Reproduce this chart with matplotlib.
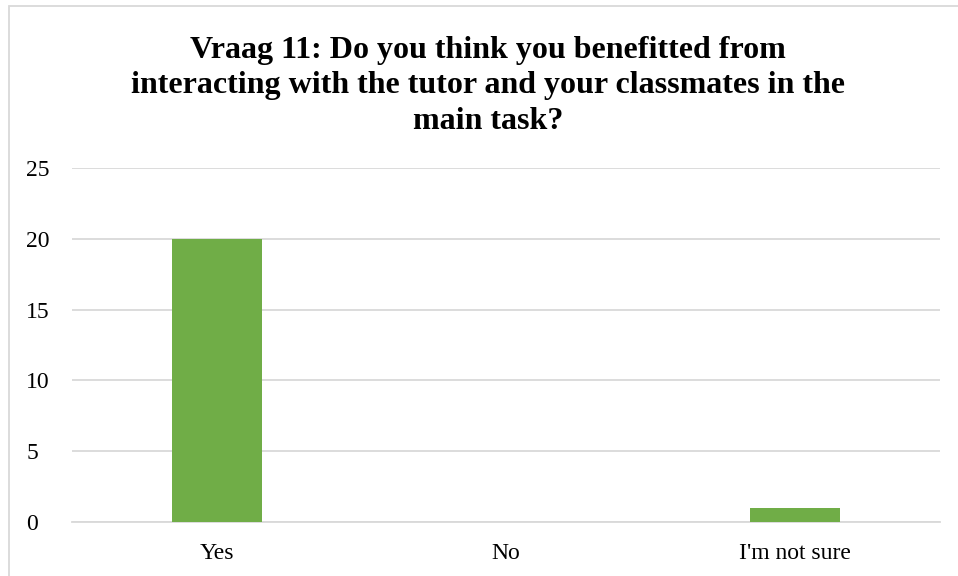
import numpy as np
import matplotlib.pyplot as plt
from matplotlib.patches import Rectangle

# survey answers for question 11
answers = ['Yes', 'No', "I'm not sure"]
counts = [20, 0, 1]
yticks = [0, 5, 10, 15, 20, 25]

title = ('Vraag 11: Do you think you benefitted from\n'
         'interacting with the tutor and your classmates in the\n'
         'main task?')

plt.rcParams['font.family'] = ['Liberation Serif', 'DejaVu Serif']

fig = plt.figure(figsize=(9.58, 5.76), dpi=100)
ax = fig.add_axes([72/958, 1 - 522/576, (940 - 72)/958, (522 - 168)/576])

x = np.arange(len(answers))
ax.bar(x, counts, width=0.31, color='#70AD47', zorder=3)

ax.set_xlim(-0.5, 2.5)
ax.set_ylim(0, 25)
ax.set_yticks(yticks)
ax.set_xticks(x)
ax.set_xticklabels(answers)
ax.tick_params(axis='both', length=0, labelsize=17, colors='black')
ax.tick_params(axis='x', pad=15)
ax.tick_params(axis='y', pad=33)
for lbl in ax.get_yticklabels():
    lbl.set_horizontalalignment('left')

ax.grid(axis='y', color='#d9d9d9', linewidth=1.3, zorder=0)
for side in ['top', 'right', 'left']:
    ax.spines[side].set_visible(False)
ax.spines['bottom'].set_color('#d9d9d9')
ax.spines['bottom'].set_linewidth(1.3)

fig.text(488/958, 1 - 86/576, title, ha='center', va='center',
         fontsize=23, fontweight='bold', linespacing=1.29)

# chart area border
fig.patches.append(Rectangle((9/958, -0.05), 1.0, 1 - 5.5/576 + 0.05,
                             transform=fig.transFigure, fill=False,
                             edgecolor='#d9d9d9', linewidth=1.3))

plt.savefig('out.png', dpi=100)
plt.close()
